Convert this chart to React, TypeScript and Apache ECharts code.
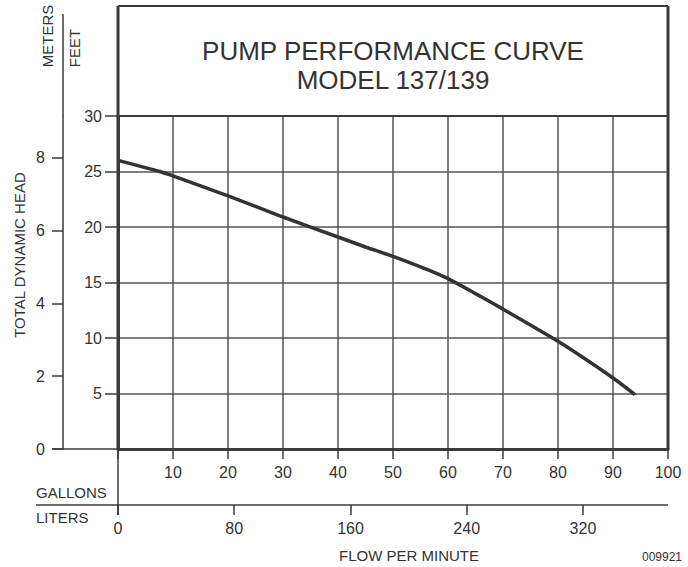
import React, { useEffect, useRef } from "react";
import * as echarts from "echarts";

// Pump curve: flow (US gallons per minute) vs total dynamic head (feet)
const flowGallons = [0, 7.6, 10, 20, 30, 40, 45, 50, 55, 60, 65, 70, 80, 90, 94];
const headFeet = [26.0, 25.0, 24.6, 22.8, 20.9, 19.1, 18.2, 17.35, 16.4, 15.35, 14.0, 12.6, 9.7, 6.4, 4.9];

const gallonTicks = [10, 20, 30, 40, 50, 60, 70, 80, 90, 100];
const feetTicks = [5, 10, 15, 20, 25, 30];
const meterTicks = [0, 2, 4, 6, 8];
const literTicks = [0, 80, 160, 240, 320];

const titleLines = ["PUMP PERFORMANCE CURVE", "MODEL 137/139"];

const GAL_MAX = 100;
const FEET_MAX = 30;
const LITERS_PER_GALLON = 3.78541;
const METERS_PER_FOOT = 0.3048;

const FONT = "Liberation Sans, Arial, Helvetica, sans-serif";
const INK = "#333333";
const LINE = "#3a3a3a";

export default function App() {
  const ref = useRef<HTMLDivElement>(null);

  useEffect(() => {
    if (!ref.current) return;
    const chart = echarts.init(ref.current, undefined, { renderer: "svg" });

    const gridL = 118;
    const gridT = 116;
    const gridW = 550;
    const gridH = 333;
    const gridR = gridL + gridW;
    const gridB = gridT + gridH;

    const line = (x1: number, y1: number, x2: number, y2: number, w: number) => ({
      type: "line",
      z: 50,
      shape: { x1, y1, x2, y2 },
      style: { stroke: LINE, lineWidth: w },
      silent: true,
    });
    const text = (
      t: string,
      x: number,
      y: number,
      size: number,
      rot = 0,
      align = "center"
    ) => ({
      type: "text",
      z: 50,
      x,
      y,
      rotation: rot,
      style: {
        text: t,
        fill: INK,
        font: `${size}px ${FONT}`,
        align,
        verticalAlign: "middle",
      },
      silent: true,
    });

    chart.setOption({
      animation: false,
      backgroundColor: "#ffffff",
      grid: { left: gridL, top: gridT, width: gridW, height: gridH, containLabel: false },
      xAxis: [
        {
          type: "value",
          position: "bottom",
          min: 0,
          max: GAL_MAX,
          interval: 10,
          axisLine: { show: true, onZero: false, lineStyle: { color: LINE, width: 3 } },
          axisTick: {
            show: true,
            length: 10,
            lineStyle: { color: LINE, width: 1.5 },
            customValues: [0, ...gallonTicks],
          },
          axisLabel: {
            show: true,
            margin: 15,
            color: INK,
            fontSize: 16,
            fontFamily: FONT,
            customValues: gallonTicks,
          },
          splitLine: { show: true, lineStyle: { color: "#555555", width: 1.5 } },
        },
        {
          type: "value",
          position: "bottom",
          offset: 56,
          min: 0,
          max: GAL_MAX * LITERS_PER_GALLON,
          interval: 80,
          axisLine: { show: false, onZero: false },
          axisTick: {
            show: true,
            length: 10,
            lineStyle: { color: LINE, width: 1.5 },
            customValues: literTicks,
          },
          axisLabel: {
            show: true,
            margin: 15,
            color: INK,
            fontSize: 16,
            fontFamily: FONT,
            customValues: literTicks,
          },
          splitLine: { show: false },
        },
      ],
      yAxis: [
        {
          type: "value",
          position: "left",
          min: 0,
          max: FEET_MAX,
          interval: 5,
          axisLine: { show: true, onZero: false, lineStyle: { color: LINE, width: 3 } },
          axisTick: {
            show: true,
            length: 13,
            lineStyle: { color: LINE, width: 1.5 },
            customValues: feetTicks,
          },
          axisLabel: {
            show: true,
            margin: 16,
            color: INK,
            fontSize: 16,
            fontFamily: FONT,
            customValues: feetTicks,
          },
          splitLine: { show: true, lineStyle: { color: "#555555", width: 1.5 } },
        },
        {
          type: "value",
          position: "left",
          offset: gridL - 63,
          min: 0,
          max: FEET_MAX * METERS_PER_FOOT,
          interval: 2,
          axisLine: { show: true, onZero: false, lineStyle: { color: LINE, width: 1.5 } },
          axisTick: {
            show: true,
            length: 11,
            lineStyle: { color: LINE, width: 1.5 },
            customValues: meterTicks,
          },
          axisLabel: {
            show: true,
            margin: 18,
            color: INK,
            fontSize: 16,
            fontFamily: FONT,
            customValues: meterTicks,
          },
          splitLine: { show: false },
        },
      ],
      series: [
        {
          type: "line",
          xAxisIndex: 0,
          yAxisIndex: 0,
          data: flowGallons.map((g, i) => [g, headFeet[i]]),
          showSymbol: false,
          smooth: 0.2,
          lineStyle: { color: "#333333", width: 3.5 },
          z: 10,
        },
      ],
      graphic: [
        // frame and title box
        line(gridL, 6, gridR, 6, 2),
        line(gridL, 6, gridL, gridB, 3),
        line(gridR, 6, gridR, gridB, 3),
        line(gridL, gridT, gridR, gridT, 2),
        // meters axis extension
        line(63, 14, 63, gridT, 1.5),
        line(52, gridB, gridL, gridB, 1.5),
        // lower scale area
        line(gridL, gridB, gridL, 515, 1.5),
        line(36, 505, gridR, 505, 1.5),
        // texts
        text(titleLines[0], (gridL + gridR) / 2, 51, 26),
        text(titleLines[1], (gridL + gridR) / 2, 80, 26),
        text("METERS", 47, 36, 15, Math.PI / 2),
        text("FEET", 74, 48, 15, Math.PI / 2),
        text("TOTAL DYNAMIC HEAD", 19, 255, 15, Math.PI / 2),
        text("GALLONS", 36, 492, 15, 0, "left"),
        text("LITERS", 36, 517, 15, 0, "left"),
        text("FLOW PER MINUTE", 409, 555, 15),
        text("009921", 682, 557, 12, 0, "right"),
      ],
    });

    return () => chart.dispose();
  }, []);

  return (
    <div
      ref={ref}
      style={{ position: "absolute", left: 0, top: 0, width: 688, height: 567 }}
    />
  );
}
